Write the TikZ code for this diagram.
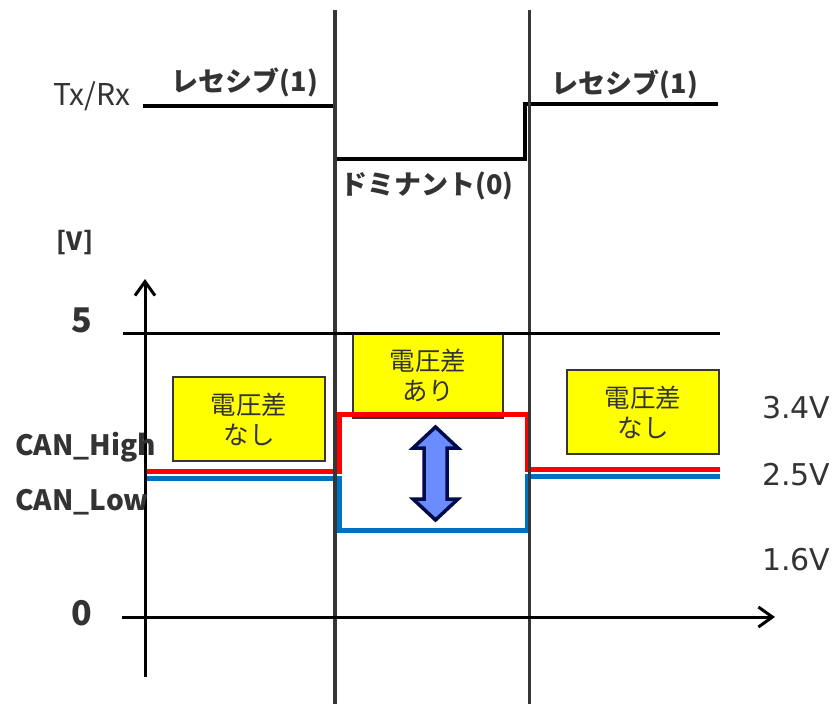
\documentclass[tikz,border=0pt]{standalone}
\usepackage{fontspec}
\usetikzlibrary{arrows.meta}
\newfontfamily\jpfont{Noto Sans CJK JP}
\newfontfamily\dvfont{DejaVu Sans}
\definecolor{txtgray}{HTML}{333333}
\definecolor{vgray}{HTML}{363636}
\definecolor{canred}{HTML}{FF0000}
\definecolor{canblue}{HTML}{0070C0}
\definecolor{boxyellow}{HTML}{FFFF00}
\definecolor{arrfill}{HTML}{6A8CFF}
\definecolor{arrline}{HTML}{000B4A}
\tikzset{
  x=1pt, y=-1pt,
  lbl/.style={inner sep=0pt, text=txtgray, font=\jpfont\bfseries\fontsize{27}{30}\selectfont},
  latin/.style={inner sep=0pt, text=txtgray, font=\jpfont\fontsize{30}{32}\selectfont},
  volt/.style={inner sep=0pt, text=txtgray, font=\dvfont\fontsize{30}{32}\selectfont},
  canlbl/.style={inner sep=0pt, text=txtgray, font=\jpfont\bfseries\fontsize{28}{30}\selectfont},
  note/.style={draw=vgray, line width=2pt, fill=boxyellow, inner sep=0pt, align=center,
    text=txtgray, font=\jpfont\fontsize{25.5}{30}\selectfont},
  gridline/.style={draw=vgray, line width=3.5pt},
  axisline/.style={draw=black, line width=3pt},
  sigline/.style={line width=5pt},
}
\begin{document}
\begin{tikzpicture}
\useasboundingbox (0,0) rectangle (838,704);
% yellow notes
\node[note, minimum width=152pt, minimum height=84pt] (n1) at (249,419) {電圧差\\なし};
\node[note, minimum width=150pt, minimum height=85pt] (n2) at (428,375.5) {電圧差\\あり};
\node[note, minimum width=152pt, minimum height=84pt] (n3) at (643,412) {電圧差\\なし};
% CAN signals
\draw[sigline, canred] (146,471.5) -- (339.5,471.5) -- (339.5,414.5) -- (527.5,414.5) -- (527.5,469) -- (720,469);
\draw[sigline, canblue] (146,478.5) -- (339.5,478.5) -- (339.5,530.5) -- (527.5,530.5) -- (527.5,476) -- (720,476);
% Tx/Rx signal
\draw[line width=4pt, black] (143,106) -- (335,106);
\draw[line width=4pt, black] (333,159) -- (525,159) -- (525,104) -- (718,104);
% grid / time marks
\coordinate (g1t) at (335,10); \coordinate (g1b) at (335,704);
\coordinate (g2t) at (529.5,10); \coordinate (g2b) at (529.5,704);
\draw[gridline] (g1t) -- (g1b);
\draw[gridline] (g2t) -- (g2b);
% axes
\coordinate (yb) at (145,677); \coordinate (yt) at (145,279);
\coordinate (xl) at (122,617); \coordinate (xr) at (775,617);
\draw[axisline, -{Straight Barb[length=14pt,width=20pt]}] (yb) -- (yt);
\draw[axisline, -{Straight Barb[length=14pt,width=20pt]}] (xl) -- (xr);
\coordinate (fl) at (123,333); \coordinate (fr) at (720,333);
\draw[axisline] (fl) -- (fr);
% double arrow
\draw[line width=3.5pt, draw=arrline, fill=arrfill, line join=miter]
  (435.5,427) -- (458,448) -- (447,448) -- (447,499) -- (458,499) -- (435.5,520)
  -- (413,499) -- (424,499) -- (424,448) -- (413,448) -- cycle;
% labels
\node[latin, anchor=base west] (tx) at (53,105) {Tx/Rx};
\node[lbl] (rec1) at (245,82) {レセシブ(1)};
\node[lbl] (rec2) at (625,84) {レセシブ(1)};
\node[lbl] (dom) at (427,186) {ドミナント(0)};
\node[inner sep=0pt, text=txtgray, font=\jpfont\bfseries\fontsize{25}{28}\selectfont] (vunit) at (75,243) {[V]};
\node[inner sep=0pt, text=txtgray, font=\jpfont\bfseries\fontsize{34}{36}\selectfont] (five) at (82,320) {5};
\node[inner sep=0pt, text=txtgray, font=\jpfont\bfseries\fontsize{34}{36}\selectfont] (zero) at (82,613) {0};
\node[canlbl, anchor=base west] (canh) at (15,455) {CAN\_High};
\node[canlbl, anchor=base west] (canl) at (15,510) {CAN\_Low};
\node[volt, anchor=base west] (v34) at (762,418) {3.4V};
\node[volt, anchor=base west] (v25) at (762,485) {2.5V};
\node[volt, anchor=base west] (v16) at (762,570) {1.6V};
\end{tikzpicture}
\end{document}
